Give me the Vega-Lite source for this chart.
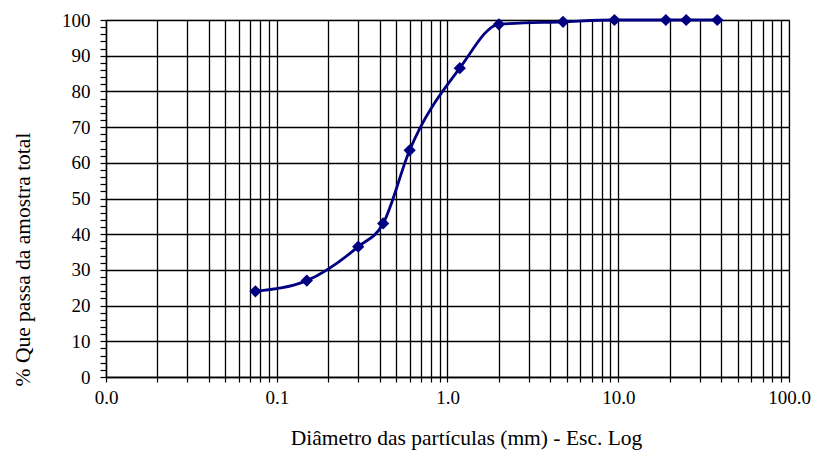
{
  "$schema": "https://vega.github.io/schema/vega-lite/v6.json",
  "width": 683,
  "height": 357,
  "autosize": {"type": "none"},
  "padding": {"left": 106, "top": 20, "right": 24, "bottom": 75},
  "background": "white",
  "config": {
    "font": "Liberation Serif",
    "view": {"stroke": "#a0a0a0", "strokeWidth": 1.2},
    "axis": {
      "labelFont": "Liberation Serif",
      "titleFont": "Liberation Serif",
      "labelColor": "black",
      "titleColor": "black",
      "titleFontWeight": "normal",
      "domainColor": "black",
      "domainWidth": 1.3,
      "tickColor": "black",
      "tickWidth": 1.2,
      "gridColor": "black",
      "gridOpacity": 1,
      "gridWidth": 1.3
    }
  },
  "data": {
    "values": [
      {"d": 0.075, "p": 24},
      {"d": 0.15, "p": 27},
      {"d": 0.3, "p": 36.5},
      {"d": 0.42, "p": 43},
      {"d": 0.6, "p": 63.5},
      {"d": 1.18, "p": 86.5},
      {"d": 2.0, "p": 98.8},
      {"d": 4.75, "p": 99.5},
      {"d": 9.5, "p": 100},
      {"d": 19, "p": 100},
      {"d": 25, "p": 100},
      {"d": 38, "p": 100}
    ]
  },
  "encoding": {
    "x": {
      "field": "d",
      "type": "quantitative",
      "scale": {"type": "log", "domain": [0.01, 100], "nice": false},
      "axis": {
        "title": "Diâmetro das partículas (mm) - Esc. Log",
        "values": [0.01,0.02,0.03,0.04,0.05,0.06,0.07,0.08,0.09,0.1,0.2,0.3,0.4,0.5,0.6,0.7,0.8,0.9,1,2,3,4,5,6,7,8,9,10,20,30,40,50,60,70,80,90,100],
        "labelExpr": "(datum.value == 0.01 || datum.value == 0.1 || datum.value == 1 || datum.value == 10 || datum.value == 100) ? format(datum.value, '.1f') : ''",
        "labelOverlap": false,
        "labelFontSize": 19,
        "labelPadding": 6,
        "labelFlush": false,
        "tickSize": 5,
        "grid": true,
        "titleFontSize": 21.5,
        "titleX": 360,
        "titleY": 61,
        "titleAlign": "center",
        "titleBaseline": "middle",
        "titleAnchor": null
      }
    },
    "y": {
      "field": "p",
      "type": "quantitative",
      "scale": {"domain": [0, 100], "nice": false},
      "axis": {
        "title": "% Que passa da amostra total",
        "values": [0,2,4,6,8,10,12,14,16,18,20,22,24,26,28,30,32,34,36,38,40,42,44,46,48,50,52,54,56,58,60,62,64,66,68,70,72,74,76,78,80,82,84,86,88,90,92,94,96,98,100],
        "labelExpr": "datum.value % 10 == 0 ? datum.label : ''",
        "labelOverlap": false,
        "labelFontSize": 19,
        "labelPadding": 10,
        "labelFlush": false,
        "tickSize": 6,
        "grid": true,
        "gridOpacity": {"condition": {"test": "datum.value % 10 == 0", "value": 1}, "value": 0},
        "titleFontSize": 21.5,
        "titleX": -83,
        "titleY": 239,
        "titleAlign": "center",
        "titleBaseline": "middle",
        "titleAngle": -90
      }
    }
  },
  "layer": [
    {
      "mark": {"type": "line", "interpolate": "monotone", "color": "#000080", "strokeWidth": 2.8}
    },
    {
      "mark": {"type": "point", "shape": "diamond", "filled": true, "size": 150, "color": "#000080", "opacity": 1}
    }
  ]
}
